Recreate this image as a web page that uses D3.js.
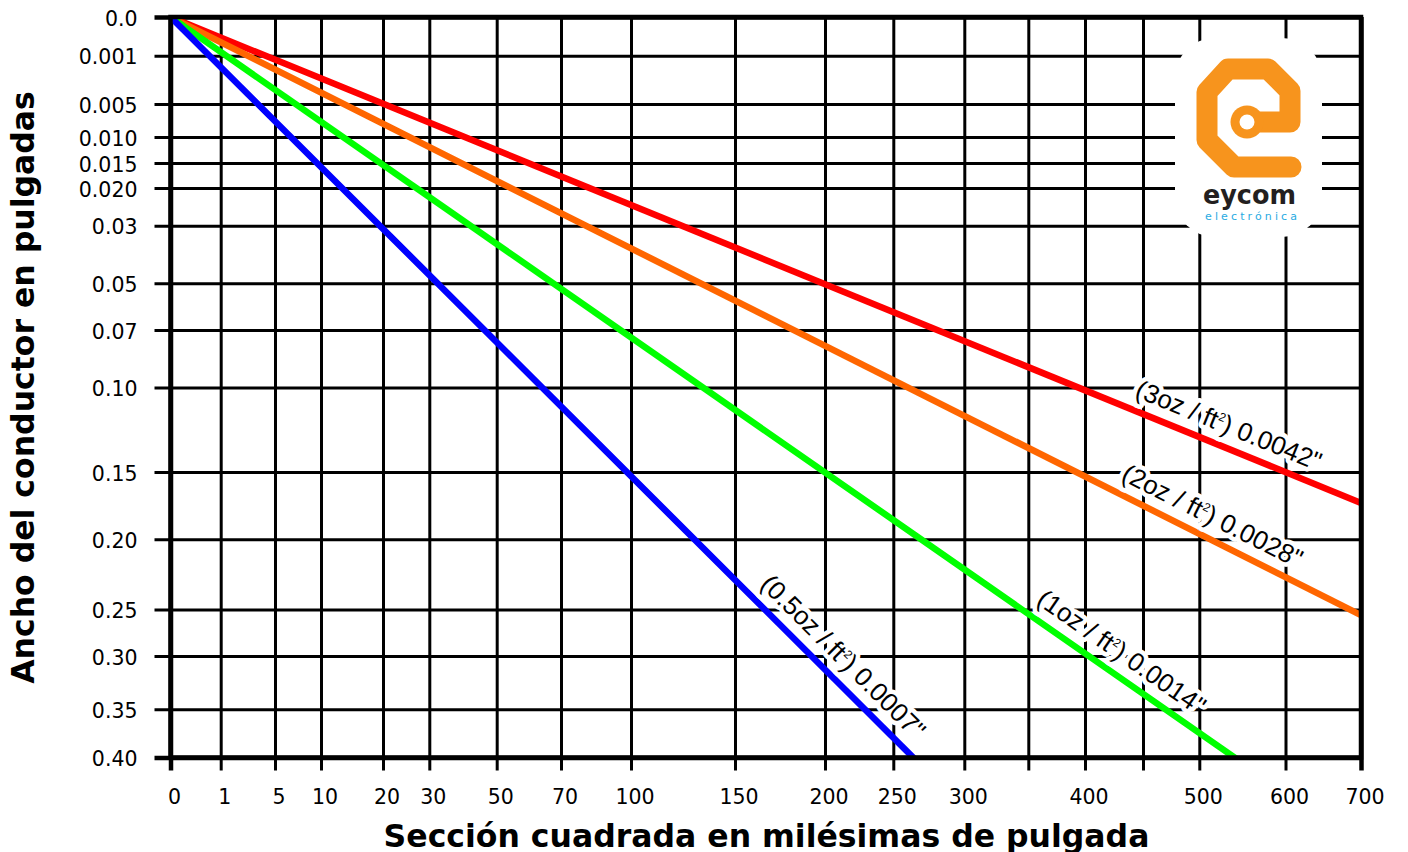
<!DOCTYPE html>
<html>
<head>
<meta charset="utf-8">
<script src="https://cdn.jsdelivr.net/npm/d3@7"></script>
<style>
  body { margin: 0; background: #fff; }
  .tick text { font-family: "DejaVu Sans", Verdana, sans-serif; font-size: 20.5px; fill: #000; }
  .axis-title { font-family: "DejaVu Sans", Verdana, sans-serif; font-size: 31.5px; font-weight: bold; fill: #000; }
  .series-label { font-family: "Liberation Sans", Arial, sans-serif; font-size: 26px; }
  .series-label.halo { fill: #fff; stroke: #fff; stroke-width: 9px; stroke-linejoin: round; }
  .series-label.ink { fill: #000; stroke: none; }
</style>
</head>
<body>
<div id="chart"></div>
<script>
// sección cuadrada (milésimas²) vs ancho del conductor (pulgadas)
const xTicks = [0, 1, 5, 10, 20, 30, 50, 70, 100, 150, 200, 250, 300, 350, 400, 450, 500, 600, 700];
const xTickLabels = [`0`, `1`, `5`, `10`, `20`, `30`, `50`, `70`, `100`, `150`, `200`, `250`, `300`, ``, `400`, ``, `500`, `600`, `700`];
const yTicks = [0, 0.001, 0.005, 0.01, 0.015, 0.02, 0.03, 0.05, 0.07, 0.1, 0.15, 0.2, 0.25, 0.3, 0.35, 0.4];
const yTickLabels = [`0.0`, `0.001`, `0.005`, `0.010`, `0.015`, `0.020`, `0.03`, `0.05`, `0.07`, `0.10`, `0.15`, `0.20`, `0.25`, `0.30`, `0.35`, `0.40`];

const seriesWeights = [`3oz`, `2oz`, `1oz`, `0.5oz`];
const seriesThickness = [`0.0042"`, `0.0028"`, `0.0014"`, `0.0007"`];
const seriesEndArea = [700, 700, 541, 264];
const seriesEndWidth = [0.173, 0.256, 0.4, 0.4];

// the nomogram grid is irregular: pixel stops of each tick from the plot origin
const xStops = [0, 50.2, 104.5, 150.5, 212.5, 258.8, 326.2, 390.5, 460.5, 564.5, 654.5, 722.8, 793.8, 857.8, 914.5, 972.5, 1028.8, 1115, 1190.5];
const yStops = [0, 38.7, 87, 120, 146, 171, 208.7, 266.3, 313, 370.5, 455, 522.3, 592.5, 639, 692.3, 740.5];
const colors = [`#ff0000`, `#ff6600`, `#00ff00`, `#0000ff`];
const labelAlong = [0.882, 0.867, 0.882, 0.885];
const labelOffset = 22;

const width = 1408;
const height = 852;
const margin = {top: 17, left: 170.5};
const innerWidth = 1190.5;
const innerHeight = 740.5;

const svg = d3.select(`#chart`)
  .append(`svg`)
    .attr(`width`, width)
    .attr(`height`, height);

const svgData = svg.append(`g`)
  .attr(`transform`, `translate(${margin.left},${margin.top})`);

const x = d3.scaleLinear().domain(xTicks).range(xStops);
const y = d3.scaleLinear().domain(yTicks).range(yStops);

// x grid + ticks + labels
const xAxis = svgData.append(`g`)
  .attr(`class`, `x-axis`)
  .call(d3.axisBottom(x)
    .tickValues(xTicks)
    .tickFormat((d, i) => xTickLabels[i])
    .tickSize(innerHeight + 13)
    .tickPadding(19));
xAxis.select(`.domain`).remove();
xAxis.selectAll(`.tick line`).attr(`stroke`, `#000`).attr(`stroke-width`, 3);
xAxis.selectAll(`.tick text`).attr(`dx`, 3.5);

// y grid + ticks + labels
const yAxis = svgData.append(`g`)
  .attr(`class`, `y-axis`)
  .attr(`transform`, `translate(${innerWidth},0)`)
  .call(d3.axisLeft(y)
    .tickValues(yTicks)
    .tickFormat((d, i) => yTickLabels[i])
    .tickSize(innerWidth + 16)
    .tickPadding(17));
yAxis.select(`.domain`).remove();
yAxis.selectAll(`.tick line`).attr(`stroke`, `#000`).attr(`stroke-width`, 3);
yAxis.selectAll(`.tick text`).attr(`dy`, `0.4em`);

// frame ends of the axes are heavier
xAxis.selectAll(`.tick line`).filter(d => d === 0 || d === 700).attr(`stroke-width`, 4.5);
yAxis.selectAll(`.tick line`).filter(d => d === 0 || d === 0.4).attr(`stroke-width`, 4.5);

// series
const series = seriesWeights.map((w, i) => ({
  weight: w,
  thickness: seriesThickness[i],
  color: colors[i],
  points: [[0, 0], [seriesEndArea[i], seriesEndWidth[i]]],
}));

svg.append(`defs`).append(`clipPath`)
  .attr(`id`, `plot-clip`)
  .append(`rect`)
    .attr(`width`, innerWidth)
    .attr(`height`, innerHeight);

const line = d3.line()
  .x(d => x(d[0]))
  .y(d => y(d[1]));

svgData.append(`g`)
  .attr(`clip-path`, `url(#plot-clip)`)
  .selectAll(`path`)
  .data(series)
  .enter().append(`path`)
    .attr(`d`, d => line(d.points))
    .attr(`fill`, `none`)
    .attr(`stroke`, d => d.color)
    .attr(`stroke-width`, 6.5)
    .attr(`stroke-linecap`, `square`);

// frame
svgData.append(`rect`)
  .attr(`width`, innerWidth)
  .attr(`height`, innerHeight)
  .attr(`fill`, `none`)
  .attr(`stroke`, `#000`)
  .attr(`stroke-width`, 4.5);

// labels along each line: a white halo copy first, then the ink
const addLabel = (s, cx, cy, deg, cls) => {
  const text = svgData.append(`text`)
    .attr(`class`, `series-label ${cls}`)
    .attr(`transform`, `translate(${cx},${cy}) rotate(${deg})`)
    .attr(`text-anchor`, `middle`);
  text.append(`tspan`).attr(`dy`, 9).text(`(${s.weight} / ft`);
  text.append(`tspan`).attr(`dy`, -10).style(`font-size`, `12px`).text(`2`);
  text.append(`tspan`).attr(`dy`, 10).text(`) ${s.thickness}`);
};

series.forEach((s, i) => {
  const x0 = x(s.points[0][0]);
  const y0 = y(s.points[0][1]);
  const x1 = x(s.points[1][0]);
  const y1 = y(s.points[1][1]);
  const a = Math.atan2(y1 - y0, x1 - x0);
  const t = labelAlong[i];
  const cx = x0 + t * (x1 - x0) + labelOffset * Math.sin(a);
  const cy = y0 + t * (y1 - y0) - labelOffset * Math.cos(a);
  const deg = a * 180 / Math.PI;

  addLabel(s, cx, cy, deg, `halo`);
  addLabel(s, cx, cy, deg, `ink`);
});

// axis titles
svg.append(`text`)
  .attr(`class`, `axis-title`)
  .attr(`transform`, `translate(34,387.5) rotate(-90)`)
  .attr(`text-anchor`, `middle`)
  .text(`Ancho del conductor en pulgadas`);

svg.append(`text`)
  .attr(`class`, `axis-title`)
  .attr(`x`, 766.5)
  .attr(`y`, 846.5)
  .attr(`text-anchor`, `middle`)
  .text(`Sección cuadrada en milésimas de pulgada`);

// logo
const logo = svg.append(`g`).attr(`class`, `logo`);
logo.append(`rect`)
  .attr(`x`, 1175).attr(`y`, 38)
  .attr(`width`, 147).attr(`height`, 199)
  .attr(`rx`, 40)
  .attr(`fill`, `#fff`);
logo.append(`path`)
  .attr(`d`, `M1291,167 L1234,167 L1207,140 L1207,92 L1228,69 L1268,69 L1290,91 L1290,122 L1247,122`)
  .attr(`fill`, `none`)
  .attr(`stroke`, `#f7941d`)
  .attr(`stroke-width`, 21)
  .attr(`stroke-linecap`, `round`)
  .attr(`stroke-linejoin`, `round`);
logo.append(`circle`).attr(`cx`, 1247).attr(`cy`, 122).attr(`r`, 16.5).attr(`fill`, `#f7941d`);
logo.append(`circle`).attr(`cx`, 1247).attr(`cy`, 122).attr(`r`, 7.5).attr(`fill`, `#fff`);
logo.append(`text`)
  .attr(`x`, 1203).attr(`y`, 204)
  .attr(`textLength`, 93)
  .attr(`lengthAdjust`, `spacingAndGlyphs`)
  .attr(`font-family`, `"DejaVu Sans", sans-serif`)
  .attr(`font-weight`, `bold`)
  .attr(`font-size`, 27)
  .attr(`fill`, `#231f20`)
  .text(`eycom`);
logo.append(`text`)
  .attr(`x`, 1205).attr(`y`, 220)
  .attr(`textLength`, 92)
  .attr(`lengthAdjust`, `spacing`)
  .attr(`font-family`, `"DejaVu Sans", sans-serif`)
  .attr(`font-size`, 11)
  .attr(`fill`, `#29abe2`)
  .text(`electrónica`);
</script>
</body>
</html>
